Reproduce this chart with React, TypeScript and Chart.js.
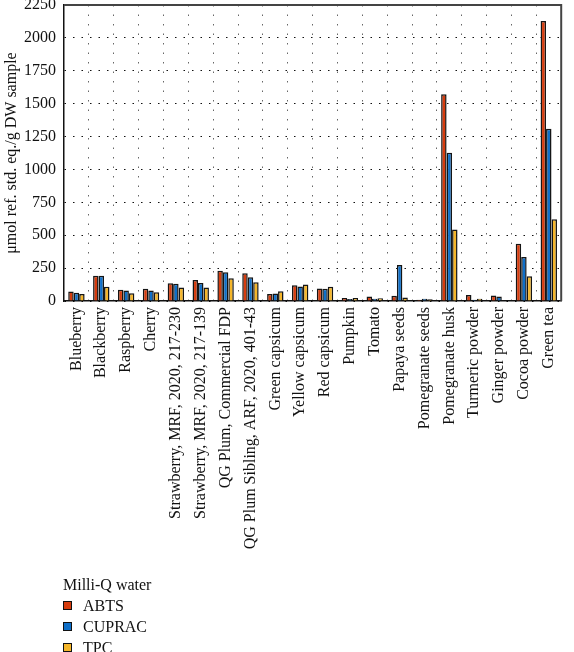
import React, { useEffect, useRef } from "react";
import { Chart, registerables } from "chart.js";

Chart.register(...registerables);

const categories = [
  "Blueberry",
  "Blackberry",
  "Raspberry",
  "Cherry",
  "Strawberry, MRF, 2020, 217-230",
  "Strawberry, MRF, 2020, 217-139",
  "QG Plum, Commercial FDP",
  "QG Plum Sibling, ARF, 2020, 401-43",
  "Green capsicum",
  "Yellow capsicum",
  "Red capsicum",
  "Pumpkin",
  "Tomato",
  "Papaya seeds",
  "Pomegranate seeds",
  "Pomegranate husk",
  "Turmeric powder",
  "Ginger powder",
  "Cocoa powder",
  "Green tea",
];

const abts = [72, 191, 85, 93, 134, 160, 229, 211, 54, 119, 95, 23, 34, 39, 10, 1571, 46, 41, 435, 2129];
const cuprac = [62, 191, 80, 80, 131, 137, 219, 180, 57, 111, 93, 15, 18, 273, 18, 1126, 10, 34, 335, 1309];
const tpc = [54, 108, 59, 67, 103, 103, 173, 142, 75, 126, 108, 23, 21, 26, 13, 544, 18, 5, 188, 621];

const seriesNames = ["ABTS", "CUPRAC", "TPC"];
const seriesColors = ["#d63c0e", "#0f6fc8", "#f5b62a"];
const legendTitle = "Milli-Q water";
const yTitle = "\u03bcmol ref. std. eq./g DW sample";
const yMin = 0;
const yMax = 2250;
const yStep = 250;

const FONT = '"Liberation Serif", "DejaVu Serif", serif';

const framePlugin = {
  id: "frame",
  afterDraw(chart: any) {
    const { ctx, chartArea } = chart;
    ctx.save();
    ctx.strokeStyle = "#444";
    ctx.lineWidth = 2;
    ctx.beginPath();
    ctx.moveTo(chartArea.left, chartArea.top);
    ctx.lineTo(chartArea.right, chartArea.top);
    ctx.lineTo(chartArea.right, chartArea.bottom);
    ctx.stroke();
    ctx.restore();
  },
};

export default function App() {
  const ref = useRef<HTMLCanvasElement>(null);

  useEffect(() => {
    document.body.style.margin = "0";
    const canvas = ref.current;
    if (!canvas) return;
    const data = [abts, cuprac, tpc];
    const chart = new Chart(canvas, {
      type: "bar",
      data: {
        labels: categories,
        datasets: seriesNames.map((name, i) => ({
          label: name,
          data: data[i],
          backgroundColor: seriesColors[i],
          borderColor: "#151515",
          borderWidth: 1.5,
          categoryPercentage: 0.66,
          barPercentage: 1.0,
        })),
      },
      plugins: [framePlugin],
      options: {
        animation: false,
        responsive: false,
        maintainAspectRatio: false,
        layout: { padding: { left: 0, right: 1, top: 5, bottom: 0 } },
        plugins: {
          legend: { display: false },
          tooltip: { enabled: false },
        },
        scales: {
          x: {
            afterFit(scale: any) {
              scale.height = 274;
            },
            grid: {
              offset: true,
              color: "#666",
              drawTicks: false,
              lineWidth: 1,
            },
            border: { color: "#111", width: 1.5, dash: [1.5, 8] },
            ticks: {
              autoSkip: false,
              maxRotation: 90,
              minRotation: 90,
              padding: 6,
              color: "#111",
              font: { family: FONT, size: 16 },
            },
          },
          y: {
            min: yMin,
            max: yMax,
            afterFit(scale: any) {
              scale.width = 64;
              scale.paddingTop = 0;
            },
            grid: {
              color: "#111",
              drawTicks: false,
              lineWidth: 1,
            },
            border: { color: "#111", width: 1.5, dash: [1.5, 7] },
            ticks: {
              stepSize: yStep,
              padding: 8,
              color: "#111",
              font: { family: FONT, size: 16 },
              callback: (v: any) => String(v),
            },
            title: {
              display: true,
              text: yTitle,
              color: "#111",
              padding: { top: 2, bottom: 0 },
              font: { family: FONT, size: 16 },
            },
          },
        },
      } as any,
    });
    return () => chart.destroy();
  }, []);

  return (
    <div style={{ position: "relative", width: 574, height: 652, fontFamily: FONT }}>
      <canvas ref={ref} width={574} height={575} style={{ position: "absolute", left: 0, top: 0 }} />
      <div style={{ position: "absolute", left: 63, top: 574, fontSize: 16, color: "#111", lineHeight: "21px" }}>
        <div>{legendTitle}</div>
        {seriesNames.map((n, i) => (
          <div key={n} style={{ display: "flex", alignItems: "center" }}>
            <span
              style={{
                display: "inline-block",
                width: 7,
                height: 7,
                background: seriesColors[i],
                border: "1px solid #111",
                marginRight: 11,
              }}
            />
            <span>{n}</span>
          </div>
        ))}
      </div>
    </div>
  );
}
